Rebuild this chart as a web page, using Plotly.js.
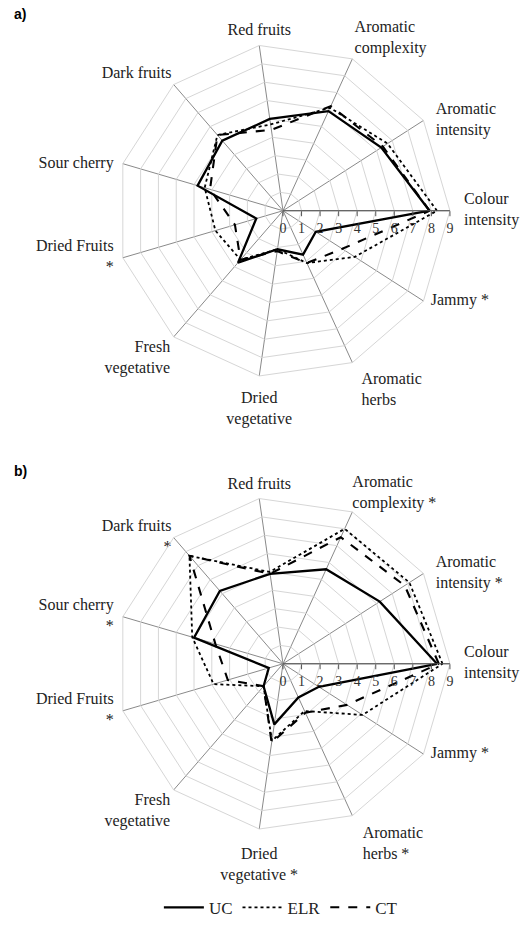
<!DOCTYPE html>
<html>
<head>
<meta charset="utf-8">
<script src="https://cdn.plot.ly/plotly-3.0.1.min.js"></script>
<style>
html,body{margin:0;padding:0;background:#fff;}
#chart{width:525px;height:926px;}
</style>
</head>
<body>
<div id="chart"></div>
<script>
// Attribute order (counter-clockwise from "Colour intensity")
var categoriesA = ["Colour<br>intensity", "Aromatic<br>intensity", "Aromatic<br>complexity", "Red fruits", "Dark fruits", "Sour cherry", "Dried Fruits<br>*", "Fresh<br>vegetative", "Dried<br>vegetative", "Aromatic<br>herbs", "Jammy *"];
var categoriesB = ["Colour<br>intensity", "Aromatic<br>intensity *", "Aromatic<br>complexity *", "Red fruits", "Dark fruits<br>*", "Sour cherry<br>*", "Dried Fruits<br>*", "Fresh<br>vegetative", "Dried<br>vegetative *", "Aromatic<br>herbs *", "Jammy *"];

// Panel a)
var ucA  = [7.9, 6.3, 5.9, 5.0, 5.0, 4.8, 1.5, 3.7, 2.1, 2.6, 2.1];
var elrA = [8.3, 6.7, 6.1, 4.7, 5.4, 4.4, 3.8, 3.5, 2.1, 3.1, 4.6];
var ctA  = [7.9, 6.4, 6.2, 4.4, 5.4, 4.1, 2.7, 3.5, 2.2, 3.1, 3.8];

// Panel b)
var ucB  = [8.3, 6.2, 5.6, 4.9, 5.2, 5.0, 0.8, 1.6, 3.3, 2.0, 2.3];
var elrB = [8.6, 8.1, 8.0, 5.0, 7.7, 5.1, 3.9, 1.6, 4.2, 2.8, 5.1];
var ctB  = [8.4, 7.8, 7.5, 4.9, 7.7, 3.8, 3.1, 1.6, 4.3, 2.9, 4.1];

var seriesNames = ["UC", "ELR", "CT"];
var radialTicks = [0, 1, 2, 3, 4, 5, 6, 7, 8, 9];
var rMax = 9;

// label placement styles (one per spoke)
var labelPosA = ["middle right", "middle right", "top right", "top center", "top left", "middle left", "middle left", "bottom left", "bottom center", "bottom right", "middle right"];
var labelPosB = ["middle right", "middle right", "top right", "top center", "middle left", "middle left", "middle left", "bottom left", "bottom center", "bottom right", "middle right"];
// invisible marker size per label: sets the gap between spoke end and text
var labelGapA = [21, 18, 2, 8, 2, 13, 13, 4, 22, 13, 10];
var labelGapB = [21, 18, 0, 8, 2, 13, 13, 4, 27, 15, 10];

function closed(arr) { return arr.concat([arr[0]]); }

var serif = "Liberation Serif";

var styles = [
  {color: "#000", width: 2.3, dash: "solid"},
  {color: "#000", width: 1.8, dash: "dot"},
  {color: "#000", width: 2.1, dash: "dash"}
];

var panels = [
  {cats: categoriesA, sets: [ucA, elrA, ctA], sp: "polar", pos: labelPosA, gap: labelGapA},
  {cats: categoriesB, sets: [ucB, elrB, ctB], sp: "polar2", pos: labelPosB, gap: labelGapB}
];

var traces = [];
panels.forEach(function (pn, p) {
  pn.sets.forEach(function (vals, i) {
    traces.push({
      type: "scatterpolar",
      mode: "lines",
      r: closed(vals),
      theta: closed(pn.cats),
      name: seriesNames[i],
      subplot: pn.sp,
      showlegend: p === 0,
      line: styles[i],
      hoverinfo: "skip"
    });
  });
  traces.push({
    type: "scatterpolar",
    mode: "markers+text",
    r: pn.cats.map(function () { return rMax; }),
    theta: pn.cats,
    text: pn.cats,
    textposition: pn.pos,
    textfont: {family: serif, size: 16, color: "#222"},
    marker: {size: pn.gap, color: "rgba(0,0,0,0)", line: {width: 0}},
    subplot: pn.sp,
    showlegend: false,
    cliponaxis: false,
    hoverinfo: "skip"
  });
});

function polarLayout(domY, cats) {
  return {
    domain: {x: [0.2176, 0.8605], y: domY},
    bgcolor: "#fff",
    gridshape: "linear",
    radialaxis: {
      range: [0, rMax],
      tickvals: radialTicks,
      ticktext: radialTicks.map(String),
      angle: 0,
      tickangle: 0,
      side: "clockwise",
      showline: true,
      linecolor: "#555",
      linewidth: 1,
      ticks: "outside",
      ticklen: 5,
      tickcolor: "#555",
      gridcolor: "#d6d6d6",
      gridwidth: 1,
      tickfont: {family: serif, size: 14, color: "#333"},
      layer: "above traces"
    },
    angularaxis: {
      type: "category",
      categoryarray: cats,
      rotation: 0,
      direction: "counterclockwise",
      showline: true,
      linecolor: "#d6d6d6",
      linewidth: 1,
      gridcolor: "#8a8a8a",
      gridwidth: 1,
      ticks: "",
      showticklabels: false
    }
  };
}

var layout = {
  width: 525,
  height: 926,
  margin: {l: 0, r: 0, t: 0, b: 0},
  paper_bgcolor: "#fff",
  font: {family: serif, color: "#222"},
  polar: polarLayout([0.5877, 0.9522], categoriesA),
  polar2: polarLayout([0.0931, 0.4576], categoriesB),
  showlegend: true,
  legend: {
    orientation: "h",
    x: 0.535, xanchor: "center",
    y: 0.009, yanchor: "middle",
    font: {family: serif, size: 17, color: "#222"},
    itemwidth: 40,
    tracegroupgap: 0
  },
  annotations: [
    {text: "<b>a)</b>", xref: "paper", yref: "paper", x: 0.022, y: 0.985, xanchor: "left", yanchor: "middle", showarrow: false, font: {family: "Liberation Sans", size: 14, color: "#000"}},
    {text: "<b>b)</b>", xref: "paper", yref: "paper", x: 0.022, y: 0.4855, xanchor: "left", yanchor: "middle", showarrow: false, font: {family: "Liberation Sans", size: 14, color: "#000"}}
  ]
};

Plotly.newPlot("chart", traces, layout, {displayModeBar: false, staticPlot: true});
</script>
</body>
</html>
